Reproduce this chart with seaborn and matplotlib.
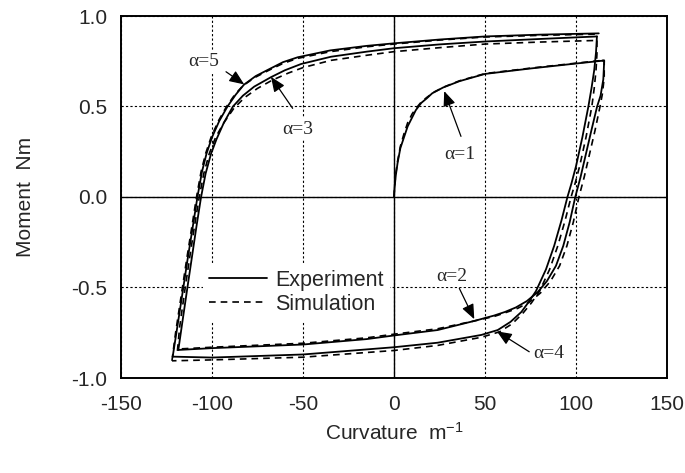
import matplotlib
matplotlib.use("Agg")
import matplotlib.pyplot as plt
from matplotlib.lines import Line2D
import seaborn as sns
import pandas as pd

# ---- moment-curvature branches (curvature in 1/m, moment in N m) ----
# alpha = 1 : virgin loading
exp1_curv = [0, 0.3, 1.0, 2.0, 3.5, 5.5, 7.5, 9.5, 12, 15, 18, 21, 27, 36, 50, 75, 96, 114.5]
exp1_mom = [0.0, 0.05, 0.12, 0.19, 0.27, 0.33, 0.39, 0.43, 0.48, 0.52, 0.545, 0.573, 0.605, 0.64, 0.68, 0.71, 0.733, 0.753]
sim1_curv = [0, 0.3, 1.0, 2.0, 3.5, 5.5, 7.5, 10, 12.5, 15, 18, 22, 28, 36, 50, 75, 96, 114.5]
sim1_mom = [0.0, 0.06, 0.13, 0.2, 0.28, 0.35, 0.41, 0.46, 0.495, 0.525, 0.55, 0.58, 0.61, 0.642, 0.682, 0.712, 0.735, 0.755]

# alpha = 2 : first reversal
exp2_curv = [114.5, 115.5, 115.0, 113.5, 111.6, 108.5, 105.5, 102.5, 99.6, 96.5, 93, 89, 84, 79, 73, 67, 61, 55, 44, 24, 0, -15, -50, -100, -118.5]
exp2_mom = [0.753, 0.753, 0.65, 0.56, 0.50, 0.37, 0.24, 0.11, 0.0, -0.14, -0.27, -0.38, -0.465, -0.525, -0.575, -0.61, -0.635, -0.655, -0.685, -0.735, -0.765, -0.785, -0.815, -0.835, -0.845]
sim2_curv = [114.5, 115.5, 115.5, 114.5, 113.2, 110.5, 107.5, 104.5, 101.6, 98.5, 95, 91, 86, 80.5, 74.5, 68, 61, 55, 44, 24, 0, -15, -50, -100, -119]
sim2_mom = [0.755, 0.755, 0.66, 0.57, 0.50, 0.37, 0.24, 0.11, 0.0, -0.14, -0.27, -0.38, -0.465, -0.53, -0.58, -0.615, -0.64, -0.66, -0.685, -0.728, -0.758, -0.778, -0.808, -0.83, -0.84]

# alpha = 3 : second reversal
exp3_curv = [-118.5, -116.7, -113.8, -111, -108.5, -106, -103.5, -100.5, -97.5, -93.5, -88.5, -83, -76.8, -67.6, -60, -51, -34.6, -15, 0, 25, 50, 80, 111.5]
exp3_mom = [-0.845, -0.72, -0.52, -0.33, -0.16, 0.0, 0.13, 0.24, 0.32, 0.41, 0.5, 0.56, 0.61, 0.662, 0.70, 0.735, 0.775, 0.803, 0.822, 0.843, 0.859, 0.873, 0.887]
sim3_curv = [-119, -117.8, -115, -112.2, -109.6, -107, -104.5, -101.5, -98, -93.5, -88, -82, -75, -67, -58, -50, -34.6, -15, 0, 25, 50, 80, 111.5]
sim3_mom = [-0.85, -0.72, -0.52, -0.33, -0.16, 0.0, 0.13, 0.24, 0.33, 0.41, 0.49, 0.55, 0.6, 0.645, 0.685, 0.715, 0.755, 0.783, 0.803, 0.825, 0.845, 0.856, 0.865]

# alpha = 4 : third reversal
exp4_curv = [111.5, 111.0, 110.0, 108.5, 106.8, 103.5, 100, 97.5, 95.3, 92, 88, 83.5, 78, 74, 70, 64, 57, 48, 24, 0, -50, -100, -121.6]
exp4_mom = [0.887, 0.8, 0.7, 0.6, 0.5, 0.33, 0.17, 0.075, 0.0, -0.13, -0.27, -0.4, -0.52, -0.58, -0.635, -0.69, -0.735, -0.762, -0.805, -0.83, -0.87, -0.887, -0.882]
sim4_curv = [111.5, 111.5, 111, 110, 108.7, 105.5, 102, 99.5, 97.3, 94, 90, 85.5, 80, 75.5, 71, 65, 58, 48, 24, 0, -50, -100, -122]
sim4_mom = [0.865, 0.79, 0.7, 0.6, 0.5, 0.33, 0.17, 0.075, 0.0, -0.13, -0.27, -0.4, -0.52, -0.585, -0.64, -0.7, -0.745, -0.775, -0.82, -0.848, -0.885, -0.9, -0.905]

# alpha = 5 : fourth reversal
exp5_curv = [-121.6, -119.4, -116.5, -113.5, -110.5, -108, -105.5, -103, -100, -96, -91.5, -87, -82.5, -76, -69.4, -61, -52.9, -35, -15, 0, 25, 50, 80, 112.5]
exp5_mom = [-0.882, -0.74, -0.55, -0.35, -0.16, 0.0, 0.14, 0.24, 0.33, 0.42, 0.5, 0.565, 0.62, 0.668, 0.702, 0.745, 0.772, 0.81, 0.835, 0.849, 0.87, 0.887, 0.897, 0.904]
sim5_curv = [-122, -120, -117, -114, -111, -108.5, -106, -103.5, -100.5, -96.5, -92, -87.5, -83, -76.5, -69.4, -61, -52.9, -35, -15, 0, 25, 50, 80, 112]
sim5_mom = [-0.905, -0.75, -0.55, -0.35, -0.16, 0.0, 0.14, 0.24, 0.33, 0.42, 0.5, 0.565, 0.615, 0.66, 0.697, 0.738, 0.766, 0.803, 0.83, 0.845, 0.867, 0.884, 0.893, 0.9]

x_ticks = [-150, -100, -50, 0, 50, 100, 150]
y_ticks = [-1.0, -0.5, 0.0, 0.5, 1.0]
series_names = ["Experiment", "Simulation"]

# branch labels: text, text position, arrow tail, arrow tip
alpha_labels = ["α=1", "α=2", "α=3", "α=4", "α=5"]
label_xy = [(36, 0.235), (32, -0.44), (-53, 0.375), (85, -0.866), (-104.5, 0.75)]
arrow_tail = [(36.8, 0.335), (35.9, -0.505), (-55.7, 0.49), (74.3, -0.855), (-92.3, 0.692)]
arrow_tip = [(27.6, 0.585), (44.1, -0.675), (-67.6, 0.664), (56.5, -0.742), (-82.3, 0.622)]

# ---- assemble long-form table ----
branches = [
    ("Experiment", 1, exp1_curv, exp1_mom), ("Simulation", 1, sim1_curv, sim1_mom),
    ("Experiment", 2, exp2_curv, exp2_mom), ("Simulation", 2, sim2_curv, sim2_mom),
    ("Experiment", 3, exp3_curv, exp3_mom), ("Simulation", 3, sim3_curv, sim3_mom),
    ("Experiment", 4, exp4_curv, exp4_mom), ("Simulation", 4, sim4_curv, sim4_mom),
    ("Experiment", 5, exp5_curv, exp5_mom), ("Simulation", 5, sim5_curv, sim5_mom),
]
rows = []
for src, br, cx, my in branches:
    for c, m in zip(cx, my):
        rows.append({"Curvature": c, "Moment": m, "Source": src, "Branch": f"{src}-{br}"})
df = pd.DataFrame(rows)

# ---- style ----
sns.set_style("white")
plt.rcParams["font.family"] = ["Liberation Sans", "DejaVu Sans"]
plt.rcParams["axes.unicode_minus"] = False
plt.rcParams["mathtext.fontset"] = "custom"
plt.rcParams["mathtext.rm"] = "Liberation Sans"
plt.rcParams["mathtext.default"] = "regular"

fig, ax = plt.subplots(figsize=(6.85, 4.73), dpi=100)
fig.subplots_adjust(left=121 / 685, right=667 / 685, bottom=1 - 378 / 473, top=1 - 16 / 473)

for src in series_names:
    sub = df[df["Source"] == src]
    sns.lineplot(data=sub, x="Curvature", y="Moment", units="Branch", estimator=None,
                 sort=False, color="black", lw=1.3 if src == "Experiment" else 1.2,
                 dashes=False, ax=ax, legend=False, zorder=3,
                 linestyle="-" if src == "Experiment" else (0, (4, 3)))

# grid: dotted, with solid zero lines
ax.set_axisbelow(True)
ax.grid(True, color="black", lw=0.8, linestyle=(0, (2, 2)))
ax.axhline(0, color="black", lw=1.0, zorder=1.5)
ax.axvline(0, color="black", lw=1.0, zorder=6)

ax.set_xlim(-150, 150)
ax.set_ylim(-1.0, 1.0)
ax.set_xticks(x_ticks)
ax.set_yticks(y_ticks)
ax.set_yticklabels([f"{v:.1f}" for v in y_ticks])
ax.tick_params(axis="y", direction="in", length=8, width=1.2, labelsize=15, pad=10)
ax.tick_params(axis="x", direction="in", length=5, width=1.2, labelsize=15, pad=12)
for sp in ax.spines.values():
    sp.set_visible(True)
    sp.set_color("black")
    sp.set_linewidth(1.4)

ax.set_xlabel("Curvature  m$^{-1}$", fontsize=15, labelpad=6)
ax.set_ylabel("Moment  Nm", fontsize=15, labelpad=26)

# branch annotations
for txt, pos, tail, tip in zip(alpha_labels, label_xy, arrow_tail, arrow_tip):
    ax.annotate("", xy=tip, xytext=tail,
                arrowprops=dict(arrowstyle="-|>,head_length=0.6,head_width=0.25",
                                color="black", lw=0.9, shrinkA=0, shrinkB=0,
                                mutation_scale=15), zorder=4)
    ax.text(pos[0], pos[1], txt, ha="center", va="center", fontsize=14,
            family=["Liberation Serif", "DejaVu Serif"], zorder=4,
            bbox=dict(facecolor="white", edgecolor="none", pad=1.5))

handles = [Line2D([], [], color="black", lw=1.3, linestyle="-"),
           Line2D([], [], color="black", lw=1.2, linestyle=(0, (4, 3)))]
leg = ax.legend(handles, series_names, loc="upper left", bbox_to_anchor=(0.15, 0.317),
                borderaxespad=0, borderpad=0.3, frameon=True, fancybox=False,
                fontsize=15.5, handlelength=2.7, handletextpad=0.35, labelspacing=0.15)
leg.get_frame().set_facecolor("white")
leg.get_frame().set_edgecolor("none")
leg.get_frame().set_alpha(1.0)
leg.set_zorder(5)

fig.savefig("out.png", dpi=100)
